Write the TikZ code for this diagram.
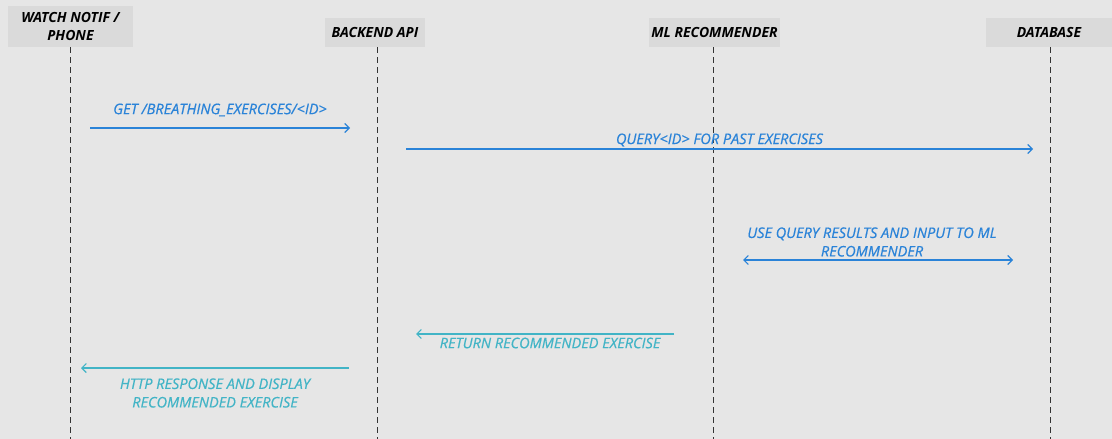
\documentclass[tikz,border=0pt]{standalone}
\usepackage{fontspec}
\setmainfont{Open Sans}
\newfontfamily\labelfont[ItalicFeatures={FakeBold=0.6}]{Open Sans}
\usepackage{tikz}
\usepackage{xcolor}
\usetikzlibrary{arrows.meta}

\definecolor{bggray}{HTML}{E6E6E6}
\definecolor{headgray}{HTML}{DADADA}
\definecolor{msgblue}{HTML}{2A83D8}
\definecolor{msgteal}{HTML}{42B4C6}

\tikzset{
  actor/.style={fill=headgray, font=\bfseries\itshape\fontsize{14}{18}\selectfont, align=center, inner sep=0pt},
  lifeline/.style={draw=black!80, dashed, dash pattern=on 6pt off 4pt, line width=1pt},
  msg/.style={line width=1.1pt, -{Straight Barb[length=4.5pt,width=9pt]}},
  msglabel/.style={font=\labelfont\itshape\fontsize{14.5}{18.5}\selectfont, align=center, inner sep=0pt}
}

\begin{document}
\begin{tikzpicture}[x=1pt,y=-1pt]
            \fill[bggray] (0,0) rectangle (1112,439);
            \useasboundingbox (0,0) rectangle (1112,439);

            % participants
            \node[actor, minimum width=125pt, minimum height=41pt] (watch) at (70.5,26.5) {WATCH NOTIF /\\PHONE};
            \node[actor, minimum width=100pt, minimum height=29pt] (api) at (375,32.5) {BACKEND API};
            \node[actor, minimum width=131pt, minimum height=29pt] (ml) at (714.5,32.5) {ML RECOMMENDER};
            \node[actor, minimum width=126pt, minimum height=29pt] (db) at (1049,32.5) {DATABASE};

            % lifelines
            \coordinate (watchEnd) at (70,439);
            \coordinate (apiEnd) at (377,439);
            \coordinate (mlEnd) at (713,439);
            \coordinate (dbEnd) at (1050,439);
            \draw[lifeline] (watch.south -| watchEnd) -- (watchEnd);
            \draw[lifeline] (api.south -| apiEnd) -- (apiEnd);
            \draw[lifeline] (ml.south -| mlEnd) -- (mlEnd);
            \draw[lifeline] (db.south -| dbEnd) -- (dbEnd);

            % message end points
            \coordinate (getFrom) at (90,128);
            \coordinate (getTo) at (350,128);
            \coordinate (queryFrom) at (406,149);
            \coordinate (queryTo) at (1033,149);
            \coordinate (useFrom) at (743,260);
            \coordinate (useTo) at (1013,260);
            \coordinate (retFrom) at (674,334);
            \coordinate (retTo) at (416,334);
            \coordinate (httpFrom) at (349,368);
            \coordinate (httpTo) at (81,368);

            % messages
            \draw[msg, msgblue] (getFrom) -- (getTo);
            \node[msglabel, text=msgblue] (getLbl) at (220,110) {GET /BREATHING\_EXERCISES/<ID>};

            \draw[msg, msgblue] (queryFrom) -- (queryTo);
            \node[msglabel, text=msgblue] (queryLbl) at (719.5,140) {QUERY<ID> FOR PAST EXERCISES};

            \draw[msg, msgblue, {Straight Barb[length=4.5pt,width=9pt]}-{Straight Barb[length=4.5pt,width=9pt]}] (useFrom) -- (useTo);
            \node[msglabel, text=msgblue] (useLbl) at (872,242) {USE QUERY RESULTS AND INPUT TO ML\\RECOMMENDER};

            \draw[msg, msgteal] (retFrom) -- (retTo);
            \node[msglabel, text=msgteal] (retLbl) at (550,343) {RETURN RECOMMENDED EXERCISE};

            \draw[msg, msgteal] (httpFrom) -- (httpTo);
            \node[msglabel, text=msgteal] (httpLbl) at (215,393) {HTTP RESPONSE AND DISPLAY\\RECOMMENDED EXERCISE};
        \end{tikzpicture}
\end{document}
